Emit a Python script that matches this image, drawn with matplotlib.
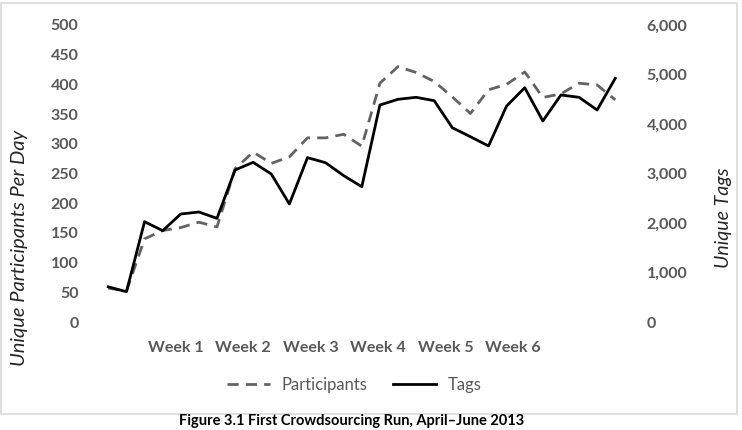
import numpy as np
import matplotlib
matplotlib.use("Agg")
import matplotlib.pyplot as plt
from matplotlib.lines import Line2D
from matplotlib.patches import Rectangle
from matplotlib.ticker import FuncFormatter

plt.rcParams['font.family'] = ['Lato', 'DejaVu Sans']

# daily values
participants = [57, 52, 140, 154, 159, 168, 160, 258, 286, 267, 278, 310, 310, 316, 296,
                402, 430, 420, 405, 379, 351, 391, 400, 421, 378, 384, 402, 399, 374]
tags = [710, 612, 2026, 1845, 2182, 2222, 2094, 3071, 3226, 2990, 2384, 3320, 3218, 2956,
        2733, 4384, 4499, 4539, 4471, 3925, 3743, 3556, 4364, 4733, 4061, 4586, 4539, 4283, 4923]
week_labels = ["Week 1", "Week 2", "Week 3", "Week 4", "Week 5", "Week 6"]
week_pos = [3.75, 7.45, 11.2, 14.9, 18.65, 22.35]

W, H = 742, 430
fig = plt.figure(figsize=(W / 100, H / 100), dpi=100)

# chart border
fig.patches.append(Rectangle((1 / W, 1 - 414 / H), 736 / W, 411 / H, transform=fig.transFigure,
                             fill=False, edgecolor='#d9d9d9', linewidth=1.2))

ax = fig.add_axes([99.3 / W, 1 - 322 / H, 525 / W, 297 / H])
ax2 = ax.twinx()

x = np.arange(len(tags))
ax.plot(x, participants, color='#636363', linewidth=2.0, linestyle=(0, (4, 2.6)))
ax2.plot(x, tags, color='black', linewidth=2.0)

ax.set_xlim(-0.5, len(tags) - 0.5)
ax.set_ylim(0, 500)
ax2.set_ylim(0, 6000)
ax.set_yticks(np.arange(0, 501, 50))
ax2.set_yticks(np.arange(0, 6001, 1000))
ax2.yaxis.set_major_formatter(FuncFormatter(lambda v, p: f"{int(v):,}"))

ax.set_xticks(week_pos)
ax.set_xticklabels(week_labels)

for a in (ax, ax2):
    for s in a.spines.values():
        s.set_visible(False)
    a.tick_params(length=0, labelsize=11.5, labelcolor='#595959')
    for lab in a.get_xticklabels() + a.get_yticklabels():
        lab.set_fontweight('bold')
ax.tick_params(axis='y', pad=15)
ax2.tick_params(axis='y', pad=16)
ax.tick_params(axis='x', pad=14)

fig.text(20 / W, 1 - 248 / H, "Unique Participants Per Day", rotation=90, style='italic',
         fontsize=14.5, color='#262626', ha='center', va='center')
fig.text(724 / W, 1 - 218 / H, "Unique Tags", rotation=90, style='italic',
         fontsize=14, color='#262626', ha='center', va='center')

handles = [Line2D([], [], color='#636363', linewidth=2.0, linestyle=(0, (4, 2.6))),
           Line2D([], [], color='black', linewidth=2.0)]
fig.legend(handles, ["Participants", "Tags"], loc='center', bbox_to_anchor=(354 / W, 1 - 385 / H),
           ncol=2, frameon=False, fontsize=12, labelcolor='#595959', handlelength=2.6,
           columnspacing=1.5, handletextpad=0.7)

fig.text(352 / W, 1.5 / H, "Figure 3.1 First Crowdsourcing Run, April\u2013June 2013",
         fontsize=10.5, fontweight='bold', ha='center', va='bottom', color='black')

fig.savefig("out.png", dpi=100)
